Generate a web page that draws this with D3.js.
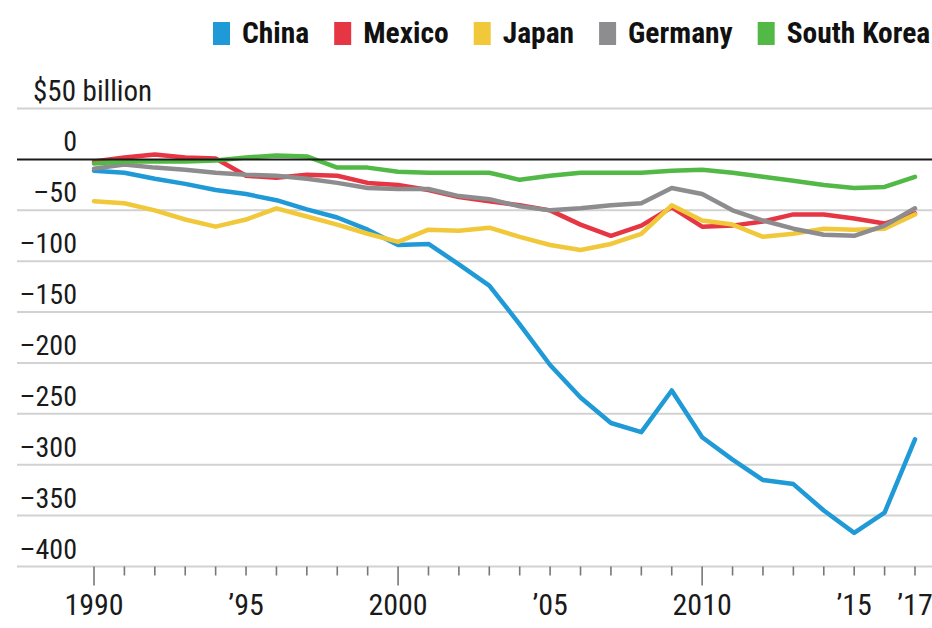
<!DOCTYPE html>
<html>
<head>
<meta charset="utf-8">
<script src="https://cdn.jsdelivr.net/npm/d3@7"></script>
<style>
  body { margin: 0; background: #fff; }
  svg { display: block; }
  .lbl { font-family: "Liberation Sans Narrow", "Arial Narrow", "Roboto Condensed", sans-serif; fill: #1a1a1a; }
  .leg { font-family: "Liberation Sans Narrow", "Arial Narrow", "Roboto Condensed", sans-serif; font-weight: bold; fill: #111; }
</style>
</head>
<body>
<script>
// U.S. goods trade balance with selected partners, $ billions
const years = d3.range(1990, 2018);
const china = [-11, -13, -19, -24, -30, -34, -40, -49, -57, -69, -84, -83, -103, -124, -162, -202, -234, -259, -268, -227, -273, -295, -315, -319, -345, -367, -347, -275];
const mexico = [-2, 2, 5, 2, 1, -16, -18, -15, -16, -23, -25, -30, -37, -41, -45, -50, -64, -75, -65, -47, -66, -65, -61, -54, -54, -58, -63, -53];
const japan = [-41, -43, -50, -59, -66, -59, -48, -56, -64, -73, -81, -69, -70, -67, -76, -84, -89, -83, -73, -45, -60, -64, -76, -73, -68, -69, -68, -54];
const germany = [-9, -5, -8, -10, -13, -15, -16, -19, -23, -28, -29, -29, -36, -39, -46, -50, -48, -45, -43, -28, -34, -50, -60, -68, -74, -75, -65, -48];
const southKorea = [-4, -2, -2, -2, -1, 2, 4, 3, -8, -8, -12, -13, -13, -13, -20, -16, -13, -13, -13, -11, -10, -13, -17, -21, -25, -28, -27, -17];

const seriesNames = ["China", "Mexico", "Japan", "Germany", "South Korea"];
const seriesValues = [china, mexico, japan, germany, southKorea];
const seriesColors = ["#1f9ad7", "#e63543", "#f0c83a", "#8d8c8e", "#52b947"];

const yTicks = [0, -50, -100, -150, -200, -250, -300, -350, -400];
const yTopLabel = "$50 billion";
const xLabels = new Map([[1990, "1990"], [1995, "\u201995"], [2000, "2000"], [2005, "\u201905"], [2010, "2010"], [2015, "\u201915"], [2017, "\u201917"]]);
const xMajor = [1990, 2000, 2010];

const W = 932, H = 628;
const svg = d3.select("body").append("svg").attr("width", W).attr("height", H);

const x = d3.scaleLinear().domain([1990, 2017]).range([94, 915]);
const y = d3.scaleLinear().domain([50, -400]).range([108.6, 566.5]);
const gridLeft = 17, gridRight = W;

// horizontal gridlines (the $50 line, negatives, and baseline)
const grid = svg.append("g");
grid.selectAll("line").data([50].concat(yTicks.filter(d => d !== 0))).join("line")
  .attr("x1", gridLeft).attr("x2", gridRight)
  .attr("y1", d => y(d)).attr("y2", d => y(d))
  .attr("stroke", "#d2d2d2").attr("stroke-width", 2);

// y labels sit just above their gridlines
svg.append("text").attr("class", "lbl").attr("x", 33).attr("y", y(50) - 8)
  .attr("font-size", 29).text(yTopLabel);
svg.append("g").selectAll("text").data(yTicks).join("text")
  .attr("class", "lbl")
  .attr("x", 77).attr("y", d => y(d) - 8)
  .attr("text-anchor", "end").attr("font-size", 28)
  .text(d => d === 0 ? "0" : "\u2013" + Math.abs(d));

// x axis ticks
const xa = svg.append("g");
xa.selectAll("line").data(years).join("line")
  .attr("x1", d => x(d)).attr("x2", d => x(d))
  .attr("y1", y(-400)).attr("y2", d => xMajor.includes(d) ? y(-400) + 19 : y(-400) + 9)
  .attr("stroke", "#777").attr("stroke-width", 1.6);
xa.selectAll("text").data([...xLabels.keys()]).join("text")
  .attr("class", "lbl")
  .attr("x", d => x(d)).attr("y", 615)
  .attr("text-anchor", "middle").attr("font-size", 30)
  .text(d => xLabels.get(d));

// series lines
const line = d3.line().x((d, i) => x(years[i])).y(d => y(d));
svg.append("g").selectAll("path").data(seriesValues).join("path")
  .attr("d", line)
  .attr("fill", "none")
  .attr("stroke", (d, i) => seriesColors[i])
  .attr("stroke-width", 4.5)
  .attr("stroke-linejoin", "round")
  .attr("stroke-linecap", "round");

// zero line drawn over the series
svg.append("line").attr("x1", gridLeft).attr("x2", gridRight)
  .attr("y1", y(0)).attr("y2", y(0))
  .attr("stroke", "#1a1a1a").attr("stroke-width", 1.8);

// legend across the top
const leg = svg.append("g");
let lx = 213;
seriesNames.forEach((name, i) => {
  leg.append("rect").attr("x", lx).attr("y", 22).attr("width", 17).attr("height", 23)
    .attr("fill", seriesColors[i]);
  const t = leg.append("text").attr("class", "leg").attr("x", lx + 29).attr("y", 43)
    .attr("font-size", 29.5).text(name);
  lx += 29 + t.node().getComputedTextLength() + 25;
});
</script>
</body>
</html>
